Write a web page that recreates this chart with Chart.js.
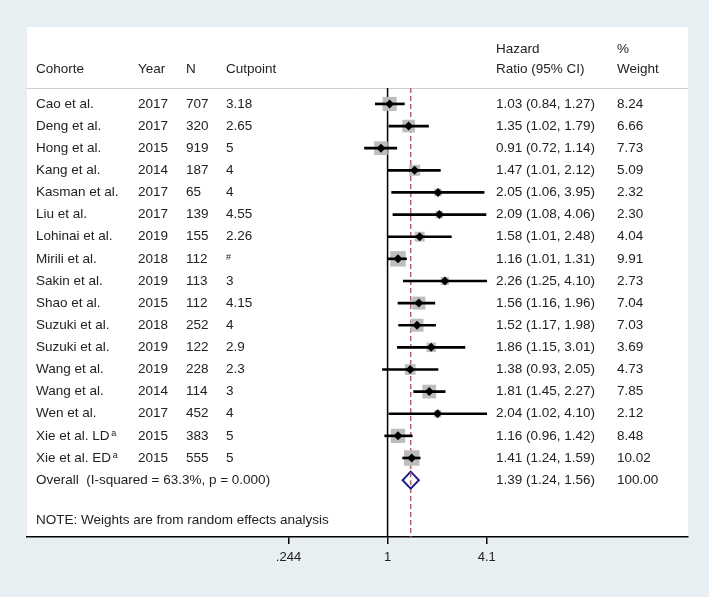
<!DOCTYPE html>
<html>
<head>
<meta charset="utf-8">
<script src="https://cdn.jsdelivr.net/npm/chart.js@4"></script>
<style>
  body { margin: 0; background: #e8eff2; }
  #wrap { width: 709px; height: 597px; }
</style>
</head>
<body>
<div id="wrap"><canvas id="forest" width="709" height="597"></canvas></div>
<script>
// study data ..........................................................
const studies = ['Cao et al.', 'Deng et al.', 'Hong et al.', 'Kang et al.', 'Kasman et al.', 'Liu et al.',
    'Lohinai et al.', 'Mirili et al.', 'Sakin et al.', 'Shao et al.', 'Suzuki et al.', 'Suzuki et al.',
    'Wang et al.', 'Wang et al.', 'Wen et al.', 'Xie et al. LD', 'Xie et al. ED'];
const superscripts = ['', '', '', '', '', '', '', '', '', '', '', '', '', '', '', 'a', 'a'];
const years = [2017, 2017, 2015, 2014, 2017, 2017, 2019, 2018, 2019, 2015, 2018, 2019, 2019, 2014, 2017, 2015, 2015];
const sizes = [707, 320, 919, 187, 65, 139, 155, 112, 113, 112, 252, 122, 228, 114, 452, 383, 555];
const cutpoints = ['3.18', '2.65', '5', '4', '4', '4.55', '2.26', '#', '3', '4.15', '4', '2.9', '2.3', '3', '4', '5', '5'];
const hr = [1.03, 1.35, 0.91, 1.47, 2.05, 2.09, 1.58, 1.16, 2.26, 1.56, 1.52, 1.86, 1.38, 1.81, 2.04, 1.16, 1.41];
const lower = [0.84, 1.02, 0.72, 1.01, 1.06, 1.08, 1.01, 1.01, 1.25, 1.16, 1.17, 1.15, 0.93, 1.45, 1.02, 0.96, 1.24];
const upper = [1.27, 1.79, 1.14, 2.12, 3.95, 4.06, 2.48, 1.31, 4.10, 1.96, 1.98, 3.01, 2.05, 2.27, 4.10, 1.42, 1.59];
const weights = [8.24, 6.66, 7.73, 5.09, 2.32, 2.30, 4.04, 9.91, 2.73, 7.04, 7.03, 3.69, 4.73, 7.85, 2.12, 8.48, 10.02];

const overallHr = 1.39;
const overallLower = 1.24;
const overallUpper = 1.56;
const overallLabel = 'Overall  (I-squared = 63.3%, p = 0.000)';
const overallWeight = '100.00';
const noteText = 'NOTE: Weights are from random effects analysis';

const tickValues = [0.244, 1, 4.1];
const tickLabels = ['.244', '1', '4.1'];

// layout ...............................................................
const yMin = -0.72;
const yMax = 19.57;
const overallRow = studies.length;
const noteRow = 18.8;
const cols = { name: 36, year: 138, n: 186, cut: 226, hr: 496, weight: 617 };
const textColor = '#222';
const fontFamily = '"Liberation Sans", Arial, sans-serif';
const font = '13.5px ' + fontFamily;
const smallFont = '9px ' + fontFamily;

function fmt(v) { return v.toFixed(2); }

const rows = studies.map((s, i) => i);

// background + table text plugin ........................................
const backgroundPlugin = {
    id: 'panel',
    beforeDraw(chart) {
        const ctx = chart.ctx;
        const area = chart.chartArea;
        ctx.save();
        ctx.fillStyle = '#e8eff2';
        ctx.fillRect(0, 0, chart.width, chart.height);
        ctx.fillStyle = '#ffffff';
        ctx.fillRect(area.left, 27, area.right - area.left, area.bottom - 27);
        // header separator
        ctx.strokeStyle = '#cfcfcf';
        ctx.lineWidth = 1;
        ctx.beginPath();
        ctx.moveTo(area.left, area.top + 0.5);
        ctx.lineTo(area.right, area.top + 0.5);
        ctx.stroke();
        ctx.restore();
    }
};

const tablePlugin = {
    id: 'table',
    afterDatasetsDraw(chart) {
        const ctx = chart.ctx;
        const x = chart.scales.x;
        const y = chart.scales.y;
        ctx.save();
        ctx.fillStyle = textColor;
        ctx.font = font;
        ctx.textBaseline = 'middle';
        ctx.textAlign = 'left';

        // headers
        ctx.fillText('Hazard', cols.hr, 49);
        ctx.fillText('%', cols.weight, 49);
        ctx.fillText('Cohorte', cols.name, 69);
        ctx.fillText('Year', cols.year, 69);
        ctx.fillText('N', cols.n, 69);
        ctx.fillText('Cutpoint', cols.cut, 69);
        ctx.fillText('Ratio (95% CI)', cols.hr, 69);
        ctx.fillText('Weight', cols.weight, 69);

        rows.forEach(i => {
            const py = y.getPixelForValue(i);
            ctx.font = font;
            ctx.fillText(studies[i], cols.name, py);
            if (superscripts[i]) {
                const w = ctx.measureText(studies[i] + ' ').width;
                ctx.font = smallFont;
                ctx.fillText(superscripts[i], cols.name + w - 2, py - 2);
                ctx.font = font;
            }
            ctx.fillText(String(years[i]), cols.year, py);
            ctx.fillText(String(sizes[i]), cols.n, py);
            if (cutpoints[i] === '#') {
                ctx.font = smallFont;
                ctx.fillText(cutpoints[i], cols.cut, py - 1);
                ctx.font = font;
            } else {
                ctx.fillText(cutpoints[i], cols.cut, py);
            }
            ctx.fillText(fmt(hr[i]) + ' (' + fmt(lower[i]) + ', ' + fmt(upper[i]) + ')', cols.hr, py);
            ctx.fillText(fmt(weights[i]), cols.weight, py);
        });

        // overall row
        const oy = y.getPixelForValue(overallRow);
        ctx.fillText(overallLabel, cols.name, oy);
        ctx.fillText(fmt(overallHr) + ' (' + fmt(overallLower) + ', ' + fmt(overallUpper) + ')', cols.hr, oy);
        ctx.fillText(overallWeight, cols.weight, oy);
        ctx.fillText(noteText, cols.name, y.getPixelForValue(noteRow));

        // overall diamond
        const xl = x.getPixelForValue(overallLower);
        const xc = x.getPixelForValue(overallHr);
        const xr = x.getPixelForValue(overallUpper);
        ctx.fillStyle = '#ffffff';
        ctx.strokeStyle = '#1c1c8a';
        ctx.lineWidth = 2;
        ctx.beginPath();
        ctx.moveTo(xl, oy);
        ctx.lineTo(xc, oy - 8.5);
        ctx.lineTo(xr, oy);
        ctx.lineTo(xc, oy + 8.5);
        ctx.closePath();
        ctx.fill();
        ctx.stroke();
        // dashed line shows through the diamond
        ctx.strokeStyle = '#b5636d';
        ctx.lineWidth = 1.5;
        ctx.setLineDash([5, 3]);
        ctx.beginPath();
        ctx.moveTo(xc, oy - 8);
        ctx.lineTo(xc, oy + 8);
        ctx.stroke();
        ctx.restore();
    }
};

// chart ..................................................................
const ctx = document.getElementById('forest').getContext('2d');
new Chart(ctx, {
    type: 'scatter',
    data: {
        datasets: [
            {
                // null line
                type: 'scatter',
                showLine: true,
                data: [{ x: 1, y: yMin }, { x: 1, y: yMax }],
                borderColor: '#000',
                borderWidth: 1.5,
                pointRadius: 0,
                order: 5
            },
            {
                // overall effect line
                type: 'scatter',
                showLine: true,
                data: [{ x: overallHr, y: yMin }, { x: overallHr, y: yMax }],
                borderColor: '#b5636d',
                borderWidth: 1.5,
                borderDash: [5, 3],
                pointRadius: 0,
                order: 4
            },
            {
                // weight boxes
                type: 'scatter',
                data: rows.map(i => ({ x: hr[i], y: i })),
                pointStyle: 'rect',
                pointRadius: c => 4.9 * Math.sqrt(weights[c.dataIndex]) / Math.SQRT2,
                backgroundColor: '#bdbdbd',
                borderWidth: 0,
                order: 3
            },
            {
                // confidence intervals
                type: 'bar',
                indexAxis: 'y',
                data: rows.map(i => ({ x: [lower[i], upper[i]], y: i })),
                backgroundColor: '#000',
                barThickness: 2,
                borderWidth: 0,
                order: 2
            },
            {
                // point estimates
                type: 'scatter',
                data: rows.map(i => ({ x: hr[i], y: i })),
                pointStyle: 'rectRot',
                pointRadius: 4.5,
                backgroundColor: '#000',
                borderWidth: 0,
                order: 1
            }
        ]
    },
    options: {
        responsive: false,
        animation: false,
        layout: { padding: { left: 27, right: 21, top: 88, bottom: 0 } },
        plugins: {
            legend: { display: false },
            tooltip: { enabled: false }
        },
        scales: {
            x: {
                type: 'logarithmic',
                min: 0.0059,
                max: 72,
                offset: false,
                afterBuildTicks: scale => {
                    scale.ticks = tickValues.map(v => ({ value: v }));
                },
                afterFit: scale => { scale.height = 60; },
                ticks: {
                    autoSkip: false,
                    maxRotation: 0,
                    padding: 6,
                    color: textColor,
                    font: { family: fontFamily, size: 13 },
                    callback: function(value) {
                        const idx = tickValues.indexOf(value);
                        return idx >= 0 ? tickLabels[idx] : '';
                    }
                },
                grid: {
                    drawOnChartArea: false,
                    drawTicks: true,
                    tickLength: 7,
                    color: '#000',
                    lineWidth: 1.5
                },
                border: { display: true, color: '#000', width: 1.5 }
            },
            y: {
                type: 'linear',
                reverse: true,
                min: yMin,
                max: yMax,
                offset: false,
                display: false
            }
        }
    },
    plugins: [backgroundPlugin, tablePlugin]
});
</script>
</body>
</html>
